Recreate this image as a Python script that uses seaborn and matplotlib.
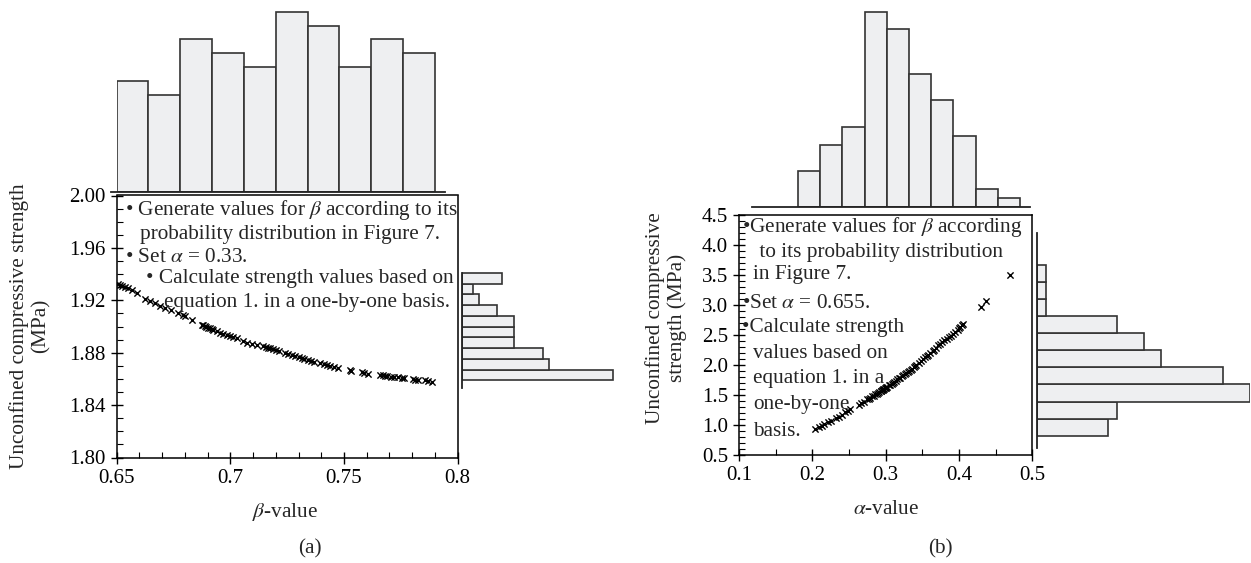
import numpy as np
import pandas as pd
import matplotlib
matplotlib.use("Agg")
import matplotlib.pyplot as plt
import seaborn as sns
from matplotlib.ticker import MultipleLocator, FormatStrFormatter, FuncFormatter

# ---------------- data ----------------
# Panel (a): beta-value vs strength
beta_vals = [0.6505, 0.6515, 0.6525, 0.6537, 0.6551, 0.6566, 0.6588, 0.6625, 0.6647, 0.6669,
             0.6691, 0.6713, 0.6739, 0.6771, 0.6791, 0.6801, 0.6830, 0.6874, 0.6880, 0.6888,
             0.6895, 0.6903, 0.6910, 0.6918, 0.6925, 0.6940, 0.6955, 0.6970, 0.6985, 0.7000,
             0.7010, 0.7028, 0.7056, 0.7075, 0.7095, 0.7116, 0.7144, 0.7155, 0.7165, 0.7175,
             0.7186, 0.7200, 0.7215, 0.7240, 0.7255, 0.7270, 0.7285, 0.7300, 0.7315, 0.7325,
             0.7340, 0.7355, 0.7370, 0.7395, 0.7410, 0.7425, 0.7440, 0.7455, 0.7475, 0.7526,
             0.7532, 0.7578, 0.7590, 0.7605, 0.7658, 0.7670, 0.7680, 0.7690, 0.7705, 0.7720,
             0.7739, 0.7754, 0.7765, 0.7802, 0.7812, 0.7825, 0.7855, 0.7870, 0.7886]
ucs_a_vals = [1.9326, 1.9318, 1.9310, 1.9303, 1.9292, 1.9276, 1.9252, 1.9210, 1.9192, 1.9178,
              1.9160, 1.9145, 1.9128, 1.9103, 1.9090, 1.9078, 1.9051, 1.9013, 1.9008, 1.9002,
              1.8997, 1.8991, 1.8986, 1.8980, 1.8975, 1.8962, 1.8950, 1.8942, 1.8932, 1.8925,
              1.8920, 1.8910, 1.8886, 1.8876, 1.8866, 1.8858, 1.8848, 1.8843, 1.8838, 1.8833,
              1.8826, 1.8818, 1.8810, 1.8797, 1.8788, 1.8780, 1.8772, 1.8765, 1.8758, 1.8752,
              1.8745, 1.8738, 1.8730, 1.8718, 1.8710, 1.8703, 1.8697, 1.8690, 1.8683, 1.8665,
              1.8662, 1.8650, 1.8646, 1.8641, 1.8632, 1.8628, 1.8625, 1.8622, 1.8618, 1.8615,
              1.8612, 1.8608, 1.8605, 1.8598, 1.8595, 1.8592, 1.8588, 1.8585, 1.8580]
beta_bin_edges = [0.650, 0.664, 0.678, 0.692, 0.706, 0.720, 0.734, 0.748, 0.762, 0.776, 0.790]
beta_counts = [8, 7, 11, 10, 9, 13, 12, 9, 11, 10]
ucs_a_bin_edges = [1.8589, 1.8671, 1.8753, 1.8835, 1.8917, 1.8999, 1.9081, 1.9163, 1.9245, 1.9327, 1.9409]
ucs_a_counts = [26, 15, 14, 9, 9, 9, 6, 3, 2, 7]

# Panel (b): alpha-value vs strength
alpha_vals = [0.204, 0.209, 0.213, 0.216, 0.222, 0.226, 0.232, 0.236, 0.241, 0.245,
              0.249, 0.252, 0.264, 0.266, 0.270, 0.275, 0.277, 0.279, 0.282, 0.284,
              0.286, 0.288, 0.290, 0.291, 0.293, 0.294, 0.295, 0.296, 0.297, 0.298,
              0.299, 0.300, 0.301, 0.302, 0.304, 0.306, 0.308, 0.310, 0.312, 0.314,
              0.316, 0.318, 0.320, 0.322, 0.324, 0.326, 0.328, 0.330, 0.332, 0.334,
              0.336, 0.338, 0.340, 0.342, 0.345, 0.348, 0.351, 0.354, 0.356, 0.358,
              0.361, 0.364, 0.366, 0.369, 0.372, 0.374, 0.377, 0.380, 0.383, 0.386,
              0.389, 0.392, 0.395, 0.398, 0.400, 0.402, 0.404, 0.405, 0.430, 0.437, 0.470]
ucs_b_vals = [0.93, 0.97, 0.99, 1.02, 1.05, 1.07, 1.11, 1.14, 1.17, 1.21,
              1.24, 1.26, 1.34, 1.36, 1.38, 1.43, 1.44, 1.45, 1.48, 1.49,
              1.51, 1.52, 1.54, 1.55, 1.56, 1.57, 1.58, 1.59, 1.60, 1.60,
              1.61, 1.62, 1.63, 1.64, 1.66, 1.67, 1.69, 1.70, 1.72, 1.74,
              1.76, 1.78, 1.79, 1.81, 1.83, 1.85, 1.87, 1.89, 1.90, 1.92,
              1.94, 1.96, 1.98, 2.00, 2.03, 2.06, 2.10, 2.13, 2.15, 2.17,
              2.20, 2.23, 2.25, 2.29, 2.33, 2.35, 2.38, 2.41, 2.43, 2.46,
              2.48, 2.52, 2.55, 2.58, 2.61, 2.64, 2.67, 2.69, 2.96, 3.07, 3.50]
alpha_bin_edges = [0.181, 0.211, 0.241, 0.272, 0.302, 0.332, 0.362, 0.392, 0.423, 0.453, 0.483]
alpha_counts = [4, 7, 9, 22, 20, 15, 12, 8, 2, 1]
ucs_b_bin_edges = [0.822, 1.107, 1.391, 1.676, 1.960, 2.245, 2.529, 2.814, 3.098, 3.383, 3.667]
ucs_b_counts = [8, 9, 24, 21, 14, 12, 9, 1, 1, 1]

text_a = ["\u2022 Generate values for $\\beta$ according to its",
          "probability distribution in Figure 7.",
          "\u2022 Set $\\alpha$ = 0.33.",
          "\u2022 Calculate strength values based on",
          "equation 1. in a one-by-one basis."]
text_b = ["\u2022Generate values for $\\beta$ according",
          " to its probability distribution",
          "in Figure 7.",
          "\u2022Set $\\alpha$ = 0.655.",
          "\u2022Calculate strength",
          "values based on",
          "equation 1. in a",
          "one-by-one",
          "basis."]

# ---------------- style ----------------
sns.set_style("ticks")
plt.rcParams["font.family"] = ["Liberation Serif", "DejaVu Serif"]
plt.rcParams["mathtext.fontset"] = "stix"
plt.rcParams["axes.linewidth"] = 1.1

W, H = 1251, 563
fig = plt.figure(figsize=(W / 100, H / 100), dpi=100)
FILL = "#EEEFF1"
EDGE = "#333333"
FS = 15.3
TFS = 15


def ax_px(x0, y0, x1, y1):
    return fig.add_axes([x0 / W, 1 - y1 / H, (x1 - x0) / W, (y1 - y0) / H])


def ftext(x, y, s, **kw):
    fig.text(x / W, 1 - y / H, s, **kw)


def style_scatter(ax, xmaj, xmin, ymaj, ymin, xfmt, yfmt):
    ax.xaxis.set_major_locator(MultipleLocator(xmaj))
    ax.xaxis.set_minor_locator(MultipleLocator(xmin))
    ax.yaxis.set_major_locator(MultipleLocator(ymaj))
    ax.yaxis.set_minor_locator(MultipleLocator(ymin))
    ax.xaxis.set_major_formatter(xfmt)
    ax.yaxis.set_major_formatter(yfmt)
    ax.tick_params(which="major", direction="inout", length=8, width=1.0,
                   labelsize=TFS, colors="k", pad=4)
    ax.tick_params(which="minor", direction="in", length=4, width=0.8, colors="k")
    for s in ax.spines.values():
        s.set_visible(True)
        s.set_color("k")
        s.set_linewidth(1.1)
    ax.set_xlabel("")
    ax.set_ylabel("")
    ax.grid(False)


def style_hist(ax, keep, lo, hi):
    for name, s in ax.spines.items():
        s.set_visible(name == keep)
    ax.spines[keep].set_bounds(lo, hi)
    ax.spines[keep].set_color("#222222")
    ax.spines[keep].set_linewidth(1.3)
    ax.set_xticks([])
    ax.set_yticks([])
    ax.set_xlabel("")
    ax.set_ylabel("")
    ax.patch.set_alpha(0)


def centers(edges):
    return [(a + b) / 2 for a, b in zip(edges[:-1], edges[1:])]


# ---------------- panel (a) ----------------
axA = ax_px(116.6, 195.5, 457.7, 457.5)
sns.scatterplot(x=beta_vals, y=ucs_a_vals, marker="x", color="k", s=20,
                linewidth=1.0, ax=axA, legend=False)
axA.set_xlim(0.65, 0.80)
axA.set_ylim(1.80, 2.00)
style_scatter(axA, 0.05, 0.01, 0.04, 0.01,
              FuncFormatter(lambda v, p: f"{v:g}"), FormatStrFormatter("%.2f"))

axAt = ax_px(116.6, 192 - 13.6 * 13.87, 457.7, 192)
sns.histplot(x=centers(beta_bin_edges), weights=beta_counts, bins=beta_bin_edges,
             color=FILL, edgecolor=EDGE, linewidth=1.2, alpha=1, ax=axAt)
axAt.set_xlim(0.65, 0.80)
axAt.set_ylim(0, 13.6)
style_hist(axAt, "bottom", 0.6474, 0.7943)

axAr = ax_px(461.7, 195.5, 461.7 + 27 * 5.81, 457.5)
sns.histplot(y=centers(ucs_a_bin_edges), weights=ucs_a_counts, bins=ucs_a_bin_edges,
             color=FILL, edgecolor=EDGE, linewidth=1.2, alpha=1, ax=axAr)
axAr.set_xlim(0, 27)
axAr.set_ylim(1.80, 2.00)
style_hist(axAr, "left", 1.853, 1.9408)

# ---------------- panel (b) ----------------
axB = ax_px(739, 215, 1032.3, 455)
sns.scatterplot(x=alpha_vals, y=ucs_b_vals, marker="x", color="k", s=20,
                linewidth=1.0, ax=axB, legend=False)
axB.set_xlim(0.1, 0.5)
axB.set_ylim(0.5, 4.5)
style_scatter(axB, 0.1, 0.05, 0.5, 0.1,
              FuncFormatter(lambda v, p: f"{v:g}"), FormatStrFormatter("%.1f"))

axBt = ax_px(739, 207 - 22.4 * 8.88, 1032.3, 207)
sns.histplot(x=centers(alpha_bin_edges), weights=alpha_counts, bins=alpha_bin_edges,
             color=FILL, edgecolor=EDGE, linewidth=1.2, alpha=1, ax=axBt)
axBt.set_xlim(0.1, 0.5)
axBt.set_ylim(0, 22.4)
style_hist(axBt, "bottom", 0.118, 0.497)

axBr = ax_px(1037.3, 215, 1037.3 + 24 * 8.85, 455)
sns.histplot(y=centers(ucs_b_bin_edges), weights=ucs_b_counts, bins=ucs_b_bin_edges,
             color=FILL, edgecolor=EDGE, linewidth=1.2, alpha=1, ax=axBr)
axBr.set_xlim(0, 24)
axBr.set_ylim(0.5, 4.5)
style_hist(axBr, "left", 0.617, 4.205)

# ---------------- text ----------------
ya = [210, 235, 257, 279, 303]
xa = [125, 140, 125, 146, 164]
for s, x, y in zip(text_a, xa, ya):
    ftext(x, y, s, fontsize=FS, ha="left", va="center")

yb = [226.7, 252.3, 274, 303.3, 327.3, 353.3, 378.3, 405, 431.7]
xb = [742, 754, 753, 742, 742, 753, 753, 753, 753]
for s, x, y in zip(text_b, xb, yb):
    ftext(x, y, s, fontsize=FS, ha="left", va="center")

ftext(30, 326, "Unconfined compressive strength\n(MPa)", fontsize=FS, rotation=90,
      ha="center", va="center", multialignment="center", linespacing=1.15)
ftext(666, 318, "Unconfined compressive\nstrength (MPa)", fontsize=FS, rotation=90,
      ha="center", va="center", multialignment="center", linespacing=1.15)

ftext(285, 512, "$\\beta$-value", fontsize=FS, ha="center", va="center")
ftext(886, 510, "$\\alpha$-value", fontsize=FS, ha="center", va="center")
ftext(310, 549, "(a)", fontsize=FS, ha="center", va="center")
ftext(940, 549, "(b)", fontsize=FS, ha="center", va="center")

fig.savefig("out.png", dpi=100)
